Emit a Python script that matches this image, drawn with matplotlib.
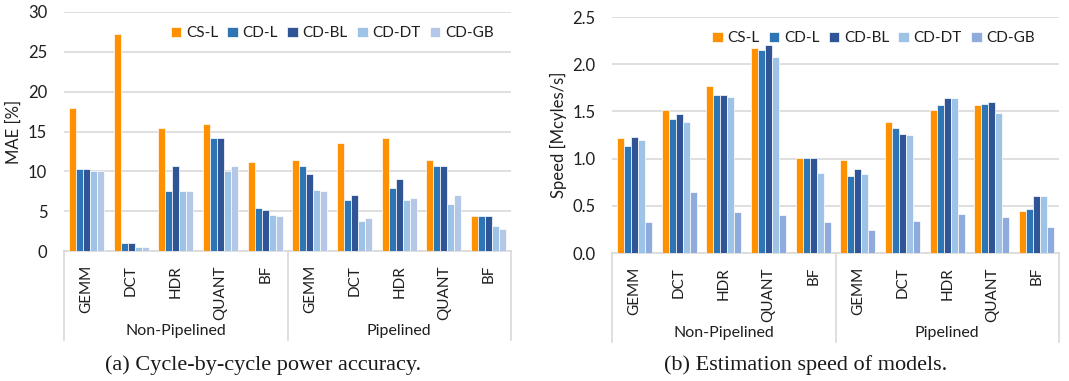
import matplotlib
matplotlib.use("Agg")
import matplotlib.pyplot as plt
import matplotlib.transforms as mtransforms
from matplotlib.lines import Line2D
import numpy as np

# Benchmarks and pipeline modes shown on the category axis
kernels = ["GEMM", "DCT", "HDR", "QUANT", "BF"]
modes = ["Non-Pipelined", "Pipelined"]
models = ["CS-L", "CD-L", "CD-BL", "CD-DT", "CD-GB"]

# Cycle-by-cycle MAE [%] (non-pipelined kernels first, then pipelined)
mae_cs_l = [18.0, 27.3, 15.5, 15.9, 11.2, 11.4, 13.6, 14.2, 11.4, 4.4]
mae_cd_l = [10.3, 1.0, 7.5, 14.2, 5.4, 10.7, 6.4, 7.9, 10.7, 4.4]
mae_cd_bl = [10.3, 1.0, 10.7, 14.2, 5.2, 9.7, 7.0, 9.1, 10.7, 4.4]
mae_cd_dt = [10.0, 0.5, 7.5, 10.0, 4.5, 7.7, 3.8, 6.4, 5.9, 3.1]
mae_cd_gb = [10.0, 0.5, 7.5, 10.7, 4.4, 7.5, 4.1, 6.6, 7.0, 2.8]

# Estimation speed [Mcycles/s]
spd_cs_l = [1.22, 1.52, 1.77, 2.17, 1.01, 0.98, 1.39, 1.52, 1.57, 0.45]
spd_cd_l = [1.13, 1.42, 1.67, 2.15, 1.01, 0.82, 1.32, 1.57, 1.58, 0.47]
spd_cd_bl = [1.23, 1.47, 1.67, 2.20, 1.01, 0.89, 1.26, 1.64, 1.60, 0.60]
spd_cd_dt = [1.20, 1.39, 1.65, 2.08, 0.85, 0.84, 1.25, 1.64, 1.48, 0.60]
spd_cd_gb = [0.33, 0.65, 0.43, 0.40, 0.33, 0.24, 0.34, 0.41, 0.38, 0.28]

colors_a = ["#FF9100", "#2E75B6", "#2F5597", "#9DC3E6", "#B4C7E7"]
colors_b = ["#FF9100", "#2E75B6", "#2F5597", "#9DC3E6", "#8FAADC"]

plt.rcParams["font.family"] = ["Lato", "DejaVu Sans"]
TXT = "#1f1f1f"
GRID = "#D9D9D9"
FW, FH = 1069, 381


def draw_panel(ax, series, colors, ymax, ystep, fmt, ylabel, label_x, legend_anchor):
    n_cat = len(kernels) * len(modes)
    x = np.arange(n_cat)
    pitch = 0.157
    for i, (vals, col, name) in enumerate(zip(series, colors, models)):
        ax.bar(x + (i - 2) * pitch, vals, width=pitch, color=col,
               edgecolor="white", linewidth=0.5, label=name, zorder=3)

    ax.set_xlim(-0.5, n_cat - 0.5)
    ax.set_ylim(0, ymax)
    ticks = np.arange(0, ymax + ystep / 2, ystep)
    ax.set_yticks(ticks)
    ax.set_yticklabels([fmt.format(t) for t in ticks])
    ax.yaxis.grid(True, color=GRID, linewidth=1.2, zorder=0)
    ax.set_axisbelow(True)
    for s in ["top", "right", "left"]:
        ax.spines[s].set_visible(False)
    ax.spines["bottom"].set_color(GRID)
    ax.spines["bottom"].set_linewidth(1.2)
    ax.set_xticks([])
    ax.tick_params(axis="y", length=0, labelsize=12, labelcolor=TXT, pad=12)
    ax.set_ylabel(ylabel, fontsize=12, color=TXT)
    ax.yaxis.set_label_coords(label_x, 0.5)

    # two-level category axis below the plot
    trans = mtransforms.blended_transform_factory(ax.transData, ax.transAxes)
    h_px = ax.get_position().height * FH
    below = lambda px: -px / h_px
    for k in range(n_cat):
        ax.text(k, below(14), kernels[k % len(kernels)], transform=trans,
                rotation=90, ha="center", va="top", fontsize=11, color=TXT)
    for m, mode in enumerate(modes):
        center = m * len(kernels) + (len(kernels) - 1) / 2
        ax.text(center, below(80), mode, transform=trans, ha="center",
                va="center", fontsize=11.5, color=TXT)
    for xs in [-0.5, len(kernels) - 0.5, n_cat - 0.5]:
        ax.add_line(Line2D([xs, xs], [0, below(89)], transform=trans,
                           color=GRID, linewidth=1.2, clip_on=False))

    ax.legend(loc="upper right", bbox_to_anchor=legend_anchor, ncol=5,
              frameon=False, fontsize=11, handlelength=0.7,
              handleheight=0.7, handletextpad=0.3, columnspacing=0.6,
              labelcolor=TXT, borderpad=0.2)


fig = plt.figure(figsize=(FW / 100, FH / 100), dpi=100)
ax_a = fig.add_axes([64 / FW, (FH - 251) / FH, 447 / FW, 239 / FH])
ax_b = fig.add_axes([612 / FW, (FH - 253) / FH, 447 / FW, 236 / FH])

draw_panel(ax_a, [mae_cs_l, mae_cd_l, mae_cd_bl, mae_cd_dt, mae_cd_gb],
           colors_a, 30, 5, "{:.0f}", "MAE [%]", -0.094, (0.985, 0.985))
draw_panel(ax_b, [spd_cs_l, spd_cd_l, spd_cd_bl, spd_cd_dt, spd_cd_gb],
           colors_b, 2.5, 0.5, "{:.1f}", "Speed [Mcyles/s]", -0.100, (0.97, 0.985))

fig.text(263 / FW, 1 - 365 / FH, "(a) Cycle-by-cycle power accuracy.",
         ha="center", va="center", fontsize=16, family="Liberation Serif",
         color="#1a1a1a")
fig.text(806 / FW, 1 - 365 / FH, "(b) Estimation speed of models.",
         ha="center", va="center", fontsize=16, family="Liberation Serif",
         color="#1a1a1a")

fig.savefig("out.png", dpi=100)
